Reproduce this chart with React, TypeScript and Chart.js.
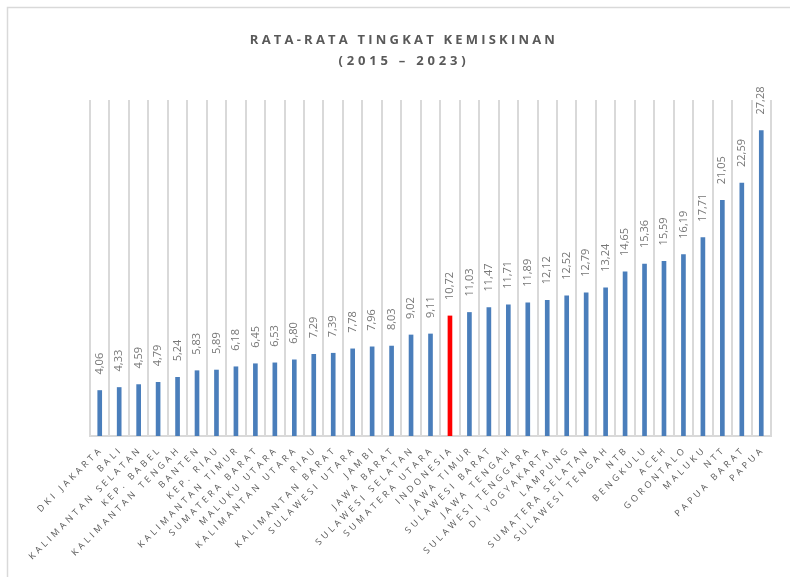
import React, { useEffect, useRef } from "react";
import { Chart, registerables } from "chart.js";

Chart.register(...registerables);

const categories: string[] = [
  "DKI JAKARTA", "BALI", "KALIMANTAN SELATAN", "KEP. BABEL", "KALIMANTAN TENGAH",
  "BANTEN", "KEP. RIAU", "KALIMANTAN TIMUR", "SUMATERA BARAT", "MALUKU UTARA",
  "KALIMANTAN UTARA", "RIAU", "KALIMANTAN BARAT", "SULAWESI UTARA", "JAMBI",
  "JAWA BARAT", "SULAWESI SELATAN", "SUMATERA UTARA", "INDONESIA", "JAWA TIMUR",
  "SULAWESI BARAT", "JAWA TENGAH", "SULAWESI TENGGARA", "DI YOGYAKARTA", "LAMPUNG",
  "SUMATERA SELATAN", "SULAWESI TENGAH", "NTB", "BENGKULU", "ACEH",
  "GORONTALO", "MALUKU", "NTT", "PAPUA BARAT", "PAPUA",
];

const povertyRate: number[] = [
  4.06, 4.33, 4.59, 4.79, 5.24,
  5.83, 5.89, 6.18, 6.45, 6.53,
  6.8, 7.29, 7.39, 7.78, 7.96,
  8.03, 9.02, 9.11, 10.72, 11.03,
  11.47, 11.71, 11.89, 12.12, 12.52,
  12.79, 13.24, 14.65, 15.36, 15.59,
  16.19, 17.71, 21.05, 22.59, 27.28,
];

const titleLines: string[] = ["RATA-RATA TINGKAT KEMISKINAN", "(2015 – 2023)"];
const highlightCategory = "INDONESIA";

const fmt = (v: number) => v.toFixed(2).replace(".", ",");

const overlayPlugin = {
  id: "overlay",
  afterDraw(chart: any) {
    const ctx: CanvasRenderingContext2D = chart.ctx;
    const area = chart.chartArea;
    ctx.save();
    // frame
    ctx.strokeStyle = "#d9d9d9";
    ctx.lineWidth = 1.5;
    ctx.beginPath();
    ctx.moveTo(7.5, 600);
    ctx.lineTo(7.5, 7.5);
    ctx.lineTo(800, 7.5);
    ctx.stroke();

    // title
    ctx.fillStyle = "#595959";
    ctx.textAlign = "center";
    ctx.textBaseline = "middle";
    (ctx as any).letterSpacing = "3.2px";
    ctx.font = "bold 13px 'Open Sans'";
    ctx.fillText(titleLines[0], 404, 40);
    (ctx as any).letterSpacing = "3.8px";
    ctx.fillText(titleLines[1], 404, 61);

    // value labels
    const meta = chart.getDatasetMeta(0);
    (ctx as any).letterSpacing = "0px";
    ctx.font = "11px 'Open Sans'";
    ctx.fillStyle = "#767676";
    ctx.textAlign = "left";
    ctx.textBaseline = "middle";
    meta.data.forEach((el: any, i: number) => {
      ctx.save();
      ctx.translate(el.x, el.y - 16);
      ctx.rotate(-Math.PI / 2);
      ctx.fillText(fmt(povertyRate[i]), 0, 0);
      ctx.restore();
    });

    // category labels
    const xs = chart.scales.x;
    (ctx as any).letterSpacing = "3.3px";
    ctx.font = "9px 'Open Sans'";
    ctx.fillStyle = "#595959";
    ctx.textAlign = "right";
    ctx.textBaseline = "middle";
    categories.forEach((c, i) => {
      const x = xs.getPixelForValue(i);
      ctx.save();
      ctx.translate(x + 2, area.bottom + 12);
      ctx.rotate(-Math.PI / 4);
      ctx.fillText(c, 0, 0);
      ctx.restore();
    });
    ctx.restore();
  },
};

export default function App() {
  const ref = useRef<HTMLCanvasElement | null>(null);
  useEffect(() => {
    if (!ref.current) return;
    const chart = new Chart(ref.current, {
      type: "bar",
      data: {
        labels: categories,
        datasets: [
          {
            data: povertyRate,
            backgroundColor: categories.map((c) => (c === highlightCategory ? "#ff0000" : "#4a7ebb")),
            barThickness: 4,
          },
        ],
      },
      options: {
        responsive: false,
        animation: false,
        layout: { padding: { left: 90, right: 19, top: 100, bottom: 141 } },
        plugins: { legend: { display: false }, tooltip: { enabled: false }, title: { display: false } },
        scales: {
          x: {
            grid: { display: true, color: "#d9d9d9", lineWidth: 2, drawTicks: false, offset: true },
            border: { display: true, color: "#d9d9d9", width: 2 },
            ticks: { display: false },
          },
          y: {
            display: false,
            min: 0,
            max: 30,
          },
        },
      },
      plugins: [overlayPlugin],
    });
    return () => chart.destroy();
  }, []);
  return (
    <div style={{ position: "fixed", left: 0, top: 0, width: 790, height: 577, background: "#fff" }}>
      <canvas ref={ref} width={790} height={577} />
    </div>
  );
}
